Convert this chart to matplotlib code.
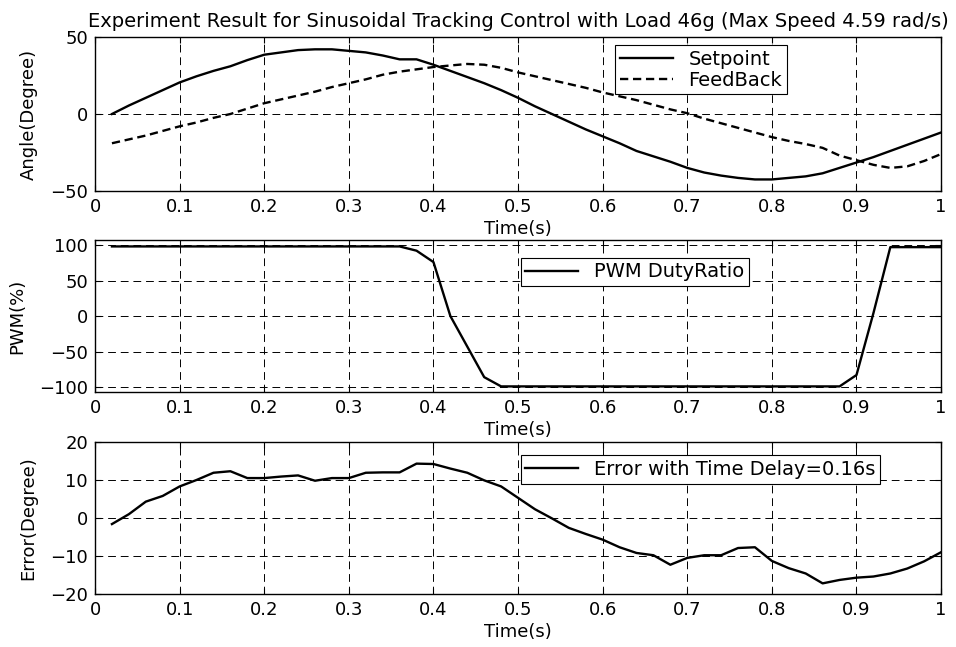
import matplotlib
matplotlib.use("Agg")
import matplotlib.pyplot as plt
import numpy as np

plt.rcParams['font.family'] = ['DejaVu Sans']

# sample times (s)
t = np.round(np.arange(0.02, 1.0001, 0.02), 2)

setpoint = [0, 5.5, 10.5, 15.5, 20.5, 24.5, 28, 31, 35, 38.5,
            40, 41.5, 42, 42, 41, 40, 38, 35.5, 35.5, 32,
            28, 24, 20, 15.5, 10.5, 5, 0, -5, -10, -14.5,
            -19, -24, -27.5, -31, -35, -38, -40, -41.5, -42.5, -42.5,
            -41.5, -40.5, -38.5, -35, -31.5, -28, -24, -20, -16, -12]

feedback = [-19, -16.5, -14, -11, -8, -5.5, -2.5, 0, 3.5, 7,
            9.5, 12, 14.5, 17.5, 20, 22.5, 25.5, 27.5, 29, 30.5,
            31.5, 32.5, 32, 30, 27, 24.5, 22, 19.5, 17, 14,
            11.5, 9, 6, 3, 0.5, -3, -6, -9, -12, -15,
            -17.5, -19.5, -22, -27, -30, -33, -35, -34, -30.5, -26]

pwm = [98, 98, 98, 98, 98, 98, 98, 98, 98, 98,
       98, 98, 98, 98, 98, 98, 98, 98, 92, 76,
       0, -43, -86, -99, -99, -99, -99, -99, -99, -99,
       -99, -99, -99, -99, -99, -99, -99, -99, -99, -99,
       -99, -99, -99, -99, -83, 4, 97, 97, 97, 97]

error = [-1.6, 1, 4.3, 5.8, 8.3, 10, 11.9, 12.3, 10.5, 10.5,
         10.9, 11.2, 9.8, 10.5, 10.5, 11.9, 12, 12, 14.3, 14.2,
         13, 11.9, 9.9, 8.3, 5.3, 2.3, -0.1, -2.6, -4.2, -5.7,
         -7.7, -9.2, -9.8, -12.3, -10.5, -9.8, -9.8, -7.9, -7.7, -11.3,
         -13.2, -14.6, -17.2, -16.3, -15.7, -15.4, -14.6, -13.3, -11.4, -9]

xticks = [0, 0.1, 0.2, 0.3, 0.4, 0.5, 0.6, 0.7, 0.8, 0.9, 1]
xtick_labels = ['0', '0.1', '0.2', '0.3', '0.4', '0.5', '0.6', '0.7', '0.8', '0.9', '1']

FS = 13

fig = plt.figure(figsize=(9.56, 6.47), dpi=100)
left, width = 0.0994, 0.885
ax1 = fig.add_axes([left, 0.7048, width, 0.238])
ax2 = fig.add_axes([left, 0.394, width, 0.235])
ax3 = fig.add_axes([left, 0.0819, width, 0.235])


def style(ax, ylim, yticks, ylabel):
    ax.set_xlim(0, 1)
    ax.set_ylim(*ylim)
    ax.set_xticks(xticks)
    ax.set_xticklabels(xtick_labels)
    ax.set_yticks(yticks)
    ax.tick_params(direction='in', length=4, width=0.8, labelsize=FS, pad=5,
                   top=True, right=True)
    ax.grid(True, color='black', linestyle=(0, (8, 5)), linewidth=0.7)
    for s in ax.spines.values():
        s.set_linewidth(1.0)
        s.set_color('black')
    ax.set_xlabel('Time(s)', fontsize=FS, labelpad=3)
    ax.set_ylabel(ylabel, fontsize=FS, labelpad=9)


def add_legend(ax, anchor):
    leg = ax.legend(loc='upper left', bbox_to_anchor=anchor, fontsize=14,
                    fancybox=False, edgecolor='black', framealpha=1, handlelength=2.7,
                    borderaxespad=0, borderpad=0.25, labelspacing=0.1, handletextpad=0.8)
    leg.get_frame().set_linewidth(0.8)


# angle tracking
ax1.plot(t, setpoint, color='black', lw=1.7, label='Setpoint')
ax1.plot(t, feedback, color='black', lw=1.7, ls=(0, (3.5, 2)), label='FeedBack')
style(ax1, (-50, 50), [-50, 0, 50], 'Angle(Degree)')
ax1.set_title('Experiment Result for Sinusoidal Tracking Control with Load 46g (Max Speed 4.59 rad/s)',
              fontsize=14, pad=7)
add_legend(ax1, (0.615, 0.95))

# pwm
ax2.plot(t, pwm, color='black', lw=1.7, label='PWM DutyRatio')
style(ax2, (-107, 107), [-100, -50, 0, 50, 100], 'PWM(%)')
add_legend(ax2, (0.503, 0.885))

# error
ax3.plot(t, error, color='black', lw=1.7, label='Error with Time Delay=0.16s')
style(ax3, (-20, 20), [-20, -10, 0, 10, 20], 'Error(Degree)')
add_legend(ax3, (0.503, 0.915))

fig.savefig('out.png', dpi=100)
